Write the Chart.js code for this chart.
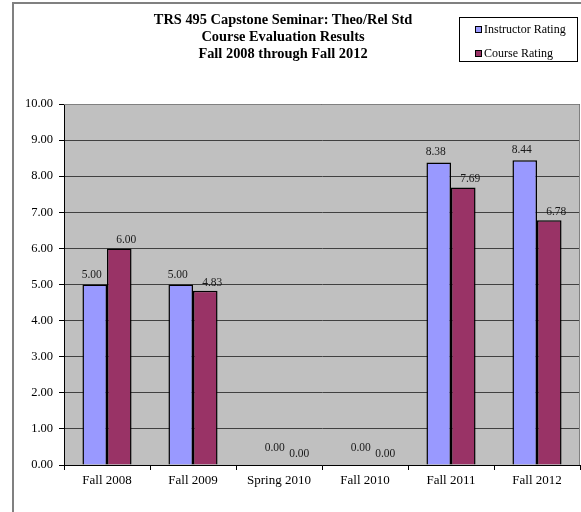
<!DOCTYPE html>
<html>
<head>
<meta charset="utf-8">
<script src="https://cdn.jsdelivr.net/npm/chart.js@4"></script>
<style>
  html, body { margin:0; padding:0; background:#fff; overflow:hidden; }
  #wrap { position:relative; width:581px; height:512px; }
  #frame { position:absolute; left:12px; top:2px; width:600px; height:600px; border-left:2px solid #808080; border-top:2px solid #808080; box-sizing:border-box; }
  canvas { position:absolute; left:0; top:0; }
  #title { position:absolute; left:113px; width:340px; top:11px; text-align:center; font:bold 14.4px "Liberation Serif", "Times New Roman", serif; line-height:17px; color:#000; }
  #legend { position:absolute; left:459px; top:17px; width:119px; height:45px; border:1px solid #000; box-sizing:border-box; background:#fff; font:12px "Liberation Serif", serif; color:#000; }
  .li { position:absolute; left:15px; height:14px; line-height:14px; white-space:nowrap; }
  .sw { display:inline-block; width:5px; height:5px; border:1px solid #000; margin-right:2px; vertical-align:0px; }
</style>
</head>
<body>
<div id="wrap">
  <div id="frame"></div>
  <canvas id="c" width="581" height="512"></canvas>
  <div id="title"></div>
  <div id="legend"></div>
</div>
<script>
const titleLines = ["TRS 495 Capstone Seminar: Theo/Rel Std", "Course Evaluation Results", "Fall 2008 through Fall 2012"];
const categories = ["Fall 2008", "Fall 2009", "Spring 2010", "Fall 2010", "Fall 2011", "Fall 2012"];
const instructorRating = [5.00, 5.00, 0.00, 0.00, 8.38, 8.44];
const courseRating = [6.00, 4.83, 0.00, 0.00, 7.69, 6.78];
const seriesNames = ["Instructor Rating", "Course Rating"];
const seriesColors = ["#9999FF", "#993366"];

document.getElementById('title').innerHTML = titleLines.join('<br>');

const serif = '"Liberation Serif", "Times New Roman", serif';

const plotBg = {
  id: 'plotBg',
  beforeDraw(chart) {
    const {ctx, chartArea: a} = chart;
    ctx.save();
    ctx.fillStyle = '#C0C0C0';
    ctx.fillRect(a.left, a.top, a.right - a.left, a.bottom - a.top);
    ctx.restore();
  },
  afterDraw(chart) {
    const {ctx, chartArea: a} = chart;
    ctx.save();
    ctx.strokeStyle = '#808080';
    ctx.lineWidth = 1;
    ctx.beginPath();
    ctx.moveTo(a.left, a.top + 0.5);
    ctx.lineTo(a.right - 0.5, a.top + 0.5);
    ctx.lineTo(a.right - 0.5, a.bottom);
    ctx.stroke();
    ctx.restore();
  }
};

const valueLabels = {
  id: 'valueLabels',
  afterDatasetsDraw(chart) {
    const ctx = chart.ctx;
    ctx.save();
    ctx.font = '11.5px ' + serif;
    ctx.fillStyle = '#1a1a1a';
    ctx.textAlign = 'center';
    ctx.textBaseline = 'middle';
    chart.data.datasets.forEach((ds, di) => {
      const meta = chart.getDatasetMeta(di);
      meta.data.forEach((el, i) => {
        const v = ds.data[i];
        let dx, dy;
        if (v === 0) {
          dx = 8; dy = di === 0 ? 17 : 11;
        } else {
          dx = di === 0 ? -3 : 7; dy = di === 0 ? 10 : 8;
        }
        ctx.fillText(v.toFixed(2), el.x + dx, el.y - dy);
      });
    });
    ctx.restore();
  }
};

// HTML legend built from series
const lg = document.getElementById('legend');
seriesNames.forEach((n, i) => {
  const d = document.createElement('div');
  d.className = 'li';
  d.style.top = (i === 0 ? 4 : 28) + 'px';
  d.innerHTML = '<span class="sw" style="background:' + seriesColors[i] + '"></span>' + n;
  lg.appendChild(d);
});

new Chart(document.getElementById('c'), {
  type: 'bar',
  data: {
    labels: categories,
    datasets: [
      { label: seriesNames[0], data: instructorRating, backgroundColor: seriesColors[0], borderColor: '#000', borderWidth: 1.5, categoryPercentage: 0.571, barPercentage: 1.0 },
      { label: seriesNames[1], data: courseRating, backgroundColor: seriesColors[1], borderColor: '#000', borderWidth: 1.5, categoryPercentage: 0.571, barPercentage: 1.0 }
    ]
  },
  options: {
    responsive: false,
    animation: false,
    devicePixelRatio: 1,
    layout: { padding: { top: 104, right: 1, left: 0, bottom: 0 } },
    plugins: { legend: { display: false }, title: { display: false }, tooltip: { enabled: false } },
    scales: {
      x: {
        afterFit(s) { s.height = 47; },
        grid: { drawOnChartArea: false, drawTicks: true, tickLength: 5, tickColor: '#000', offset: true },
        border: { display: true, color: '#000', width: 1 },
        ticks: { color: '#000', font: { family: serif, size: 13 }, padding: 3, maxRotation: 0 }
      },
      y: {
        min: 0, max: 10,
        afterFit(s) { s.width = 64; },
        grid: { color: '#404040', lineWidth: 1, tickLength: 5, tickColor: '#000' },
        border: { display: true, color: '#000', width: 1 },
        ticks: { stepSize: 1, color: '#000', padding: 6, font: { family: serif, size: 12.5 }, callback: v => Number(v).toFixed(2) }
      }
    }
  },
  plugins: [plotBg, valueLabels]
});
</script>
</body>
</html>
